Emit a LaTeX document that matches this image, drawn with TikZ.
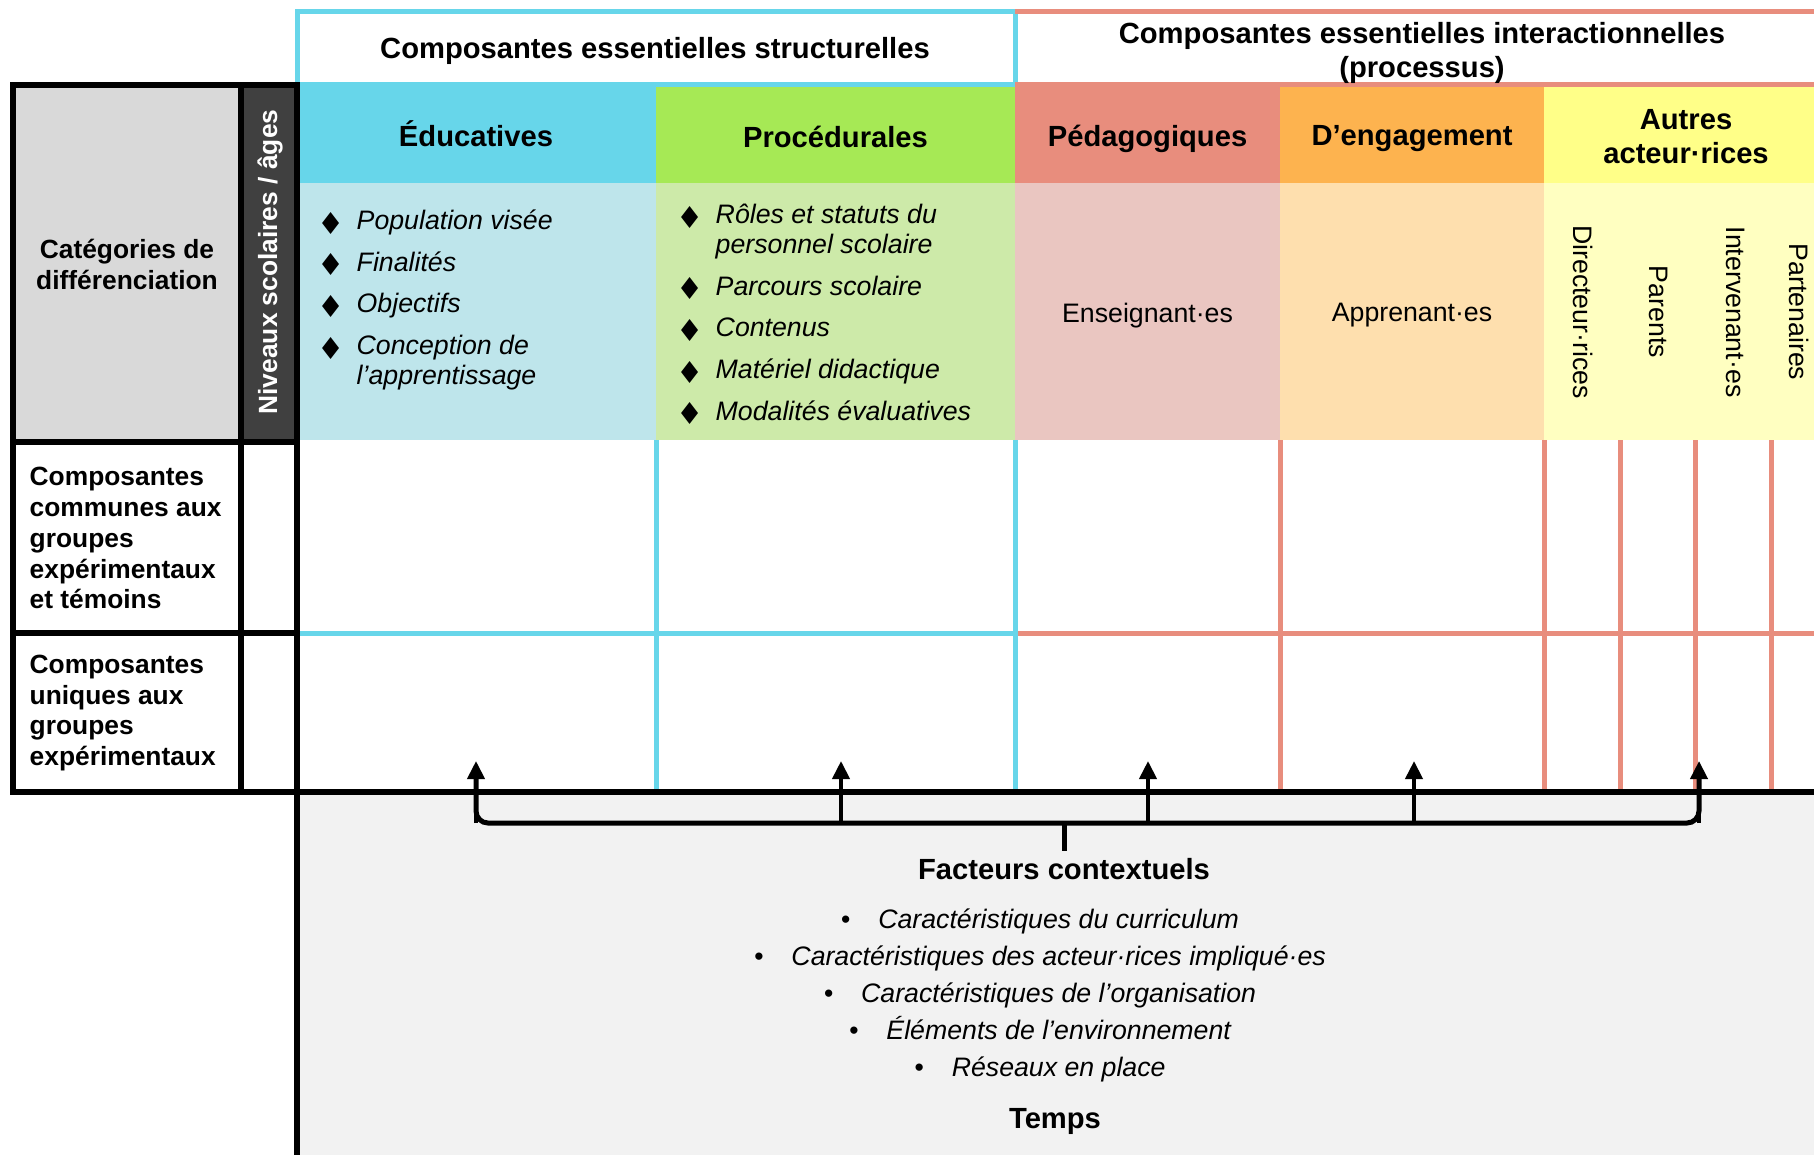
\documentclass[tikz,border=0pt]{standalone}
\usepackage{fontspec}
\setmainfont{Liberation Sans}
\newfontfamily\symfont{DejaVu Sans}
\usepackage{array}
\usetikzlibrary{arrows.meta, positioning, calc}
\definecolor{cCyan}{HTML}{67D6EA}
\definecolor{cCyanL}{HTML}{BEE5EB}
\definecolor{cGreen}{HTML}{A6E955}
\definecolor{cGreenL}{HTML}{CDEAA9}
\definecolor{cSalmon}{HTML}{E88D7D}
\definecolor{cSalmonL}{HTML}{EAC6C1}
\definecolor{cOrange}{HTML}{FDB34F}
\definecolor{cOrangeL}{HTML}{FEDFAE}
\definecolor{cYellow}{HTML}{FFFF88}
\definecolor{cYellowL}{HTML}{FFFFC1}
\definecolor{cGreyL}{HTML}{D9D9D9}
\definecolor{cGreyD}{HTML}{404040}
\definecolor{cBack}{HTML}{F2F2F2}
\newcommand{\hdrfont}{\fontsize{8.3}{9.7}\selectfont\bfseries}
\newcommand{\bodyfont}{\fontsize{7.6}{8.55}\selectfont}
\newcommand{\lblfont}{\fontsize{7.5}{8.8}\selectfont\bfseries}
\newcommand{\losange}{\hspace*{-0.05cm}\smash{\raisebox{-1.3pt}{\fontsize{8.6}{8.55}\selectfont ♦}}}
\tikzset{
	hdr/.style      ={font=\hdrfont, align=center, inner sep=0pt},
	txt/.style      ={font=\bodyfont, inner sep=0pt},
	lbl/.style      ={font=\lblfont, align=left, inner sep=0pt},
	% lines of the grid
	cyanline/.style ={cCyan, line width=0.05cm},
	salmline/.style ={cSalmon, line width=0.05cm},
	blackline/.style={black, line width=0.06cm},
	uparrow/.style  ={-{Triangle[length=0.18cm, width=0.17cm]}, line width=0.04cm},
	brace/.style    ={line width=0.05cm, rounded corners=0.12cm},
}

\begin{document}
\begin{tikzpicture}
	\useasboundingbox (0,0) rectangle (18.14,-11.54);
	% coloured headers and contents
	\fill[cBack] (2.97,-7.92) rectangle (18.4,-11.6);
	\foreach \xa/\xb/\ch/\cl in {2.97/6.56/cCyan/cCyanL, 6.56/10.15/cGreen/cGreenL, 10.15/12.80/cSalmon/cSalmonL, 12.80/15.44/cOrange/cOrangeL, 15.44/18.4/cYellow/cYellowL}{
		\fill[\ch] (\xa,-0.845) rectangle (\xb,-1.83);
		\fill[\cl] (\xa,-1.83) rectangle (\xb,-4.40);
	}
	\fill[cGreyL] (0.13,-0.85) rectangle (2.405,-4.40);
	\fill[cGreyD] (2.405,-0.85) rectangle (2.97,-4.40);

	% grid
	\draw[cyanline] (2.97,-0.115) rectangle (10.15,-0.845);
	\draw[salmline] (10.15,-0.115) -- (18.4,-0.115);
	\draw[salmline] (10.15,-0.845) -- (18.4,-0.845);
	\draw[cyanline] (2.97,-6.33) -- (10.15,-6.33);
	\draw[salmline] (10.15,-6.33) -- (18.4,-6.33);
	\foreach \x in {6.56,10.15} \draw[cyanline] (\x,-4.40) -- (\x,-7.92);
	\foreach \x in {12.80,15.44,16.20,16.95,17.71} \draw[salmline] (\x,-4.40) -- (\x,-7.92);
	\draw[blackline] (0.13,-0.85) rectangle (2.97,-7.92);
	\draw[blackline] (2.405,-0.85) -- (2.405,-7.92);
	\draw[blackline] (0.13,-4.42) -- (2.97,-4.42);
	\draw[blackline] (0.13,-6.33) -- (2.97,-6.33);
	\draw[blackline] (2.97,-7.92) -- (2.97,-11.6);
	\draw[blackline] (0.13,-7.92) -- (18.4,-7.92);

	% headers
	\node[hdr] (structh) at (6.55,-0.505) {Composantes essentielles structurelles};
	\node[hdr] (interh) at (14.22,-0.525) {Composantes essentielles interactionnelles\\(processus)};
	\node[hdr] (educ) at (4.76,-1.342) {Éducatives};
	\node[hdr] (proc) at (8.355,-1.365) {Procédurales};
	\node[hdr] (peda) at (11.475,-1.388) {Pédagogiques};
	\node[hdr] (enga) at (14.12,-1.388) {D’engagement};
	\node[hdr] (autr) at (16.86,-1.37) {Autres\\acteur·rices};

	% contents
	\node[txt, anchor=base west] (educl) at (3.215,-2.295) {\begin{tabular}[t]{@{}>{\symfont}p{0.345cm}@{}>{\itshape}l@{}}
		\losange & Population visée\\[3.3pt]
		\losange & Finalités\\[3.3pt]
		\losange & Objectifs\\[3.3pt]
		\losange & Conception de\\
		& l’apprentissage
	\end{tabular}};
	\node[txt, anchor=base west] (procl) at (6.805,-2.235) {\begin{tabular}[t]{@{}>{\symfont}p{0.345cm}@{}>{\itshape}l@{}}
		\losange & Rôles et statuts du\\
		& personnel scolaire\\[3.3pt]
		\losange & Parcours scolaire\\[3.3pt]
		\losange & Contenus\\[3.3pt]
		\losange & Matériel didactique\\[3.3pt]
		\losange & Modalités évaluatives
	\end{tabular}};
	\node[txt] (ens) at (11.475,-3.155) {Enseignant·es};
	\node[txt] (app) at (14.12,-3.155) {Apprenant·es};
	\node[txt, rotate=-90] (dir) at (15.83,-3.12) {Directeur·rices};
	\node[txt, rotate=-90] (par) at (16.59,-3.12) {Parents};
	\node[txt, rotate=-90] (int) at (17.36,-3.12) {Intervenant·es};
	\node[txt, rotate=-90] (part) at (17.99,-3.12) {Partenaires};

	% left column
	\node[lbl, align=center] (categ) at (1.27,-2.64) {Catégories de\\différenciation};
	\node[lbl, rotate=90, text=white] (niveaux) at (2.70,-2.62) {Niveaux scolaires / âges};
	\node[lbl, anchor=west] (communes) at (0.29,-5.38) {Composantes\\communes aux\\groupes\\expérimentaux\\et témoins};
	\node[lbl, anchor=west] (uniques) at (0.29,-7.13) {Composantes\\uniques aux\\groupes\\expérimentaux};

	% contextual factors
	\foreach \x [count=\i] in {4.76,8.41,11.48,14.14,16.99}{
		\coordinate (pied\i) at (\x,-8.23);
		\coordinate (pointe\i) at (\x,-7.61);
		\draw[uparrow] (pied\i) -- (pointe\i);
	}
	\coordinate (milieu) at (10.64,-8.23);
	\draw[brace] ($(pied1)+(0,0.45)$) -- (pied1) -- (pied5) -- ($(pied5)+(0,0.45)$);
	\draw[brace] (milieu) -- ++(0,-0.28);
	\node[hdr] (facteurs) at (10.64,-8.69) {Facteurs contextuels};
	\node[font=\fontsize{7.6}{10.5}\selectfont\itshape, align=center, inner sep=0pt] (liste) at (10.40,-9.955) {•\hspace{0.28cm}Caractéristiques du curriculum\\
		•\hspace{0.28cm}Caractéristiques des acteur·rices impliqué·es\\
		•\hspace{0.28cm}Caractéristiques de l’organisation\\
		•\hspace{0.28cm}Éléments de l’environnement\\
		•\hspace{0.28cm}Réseaux en place};
	\node[hdr] (temps) at (10.55,-11.21) {Temps};
\end{tikzpicture}
\end{document}
